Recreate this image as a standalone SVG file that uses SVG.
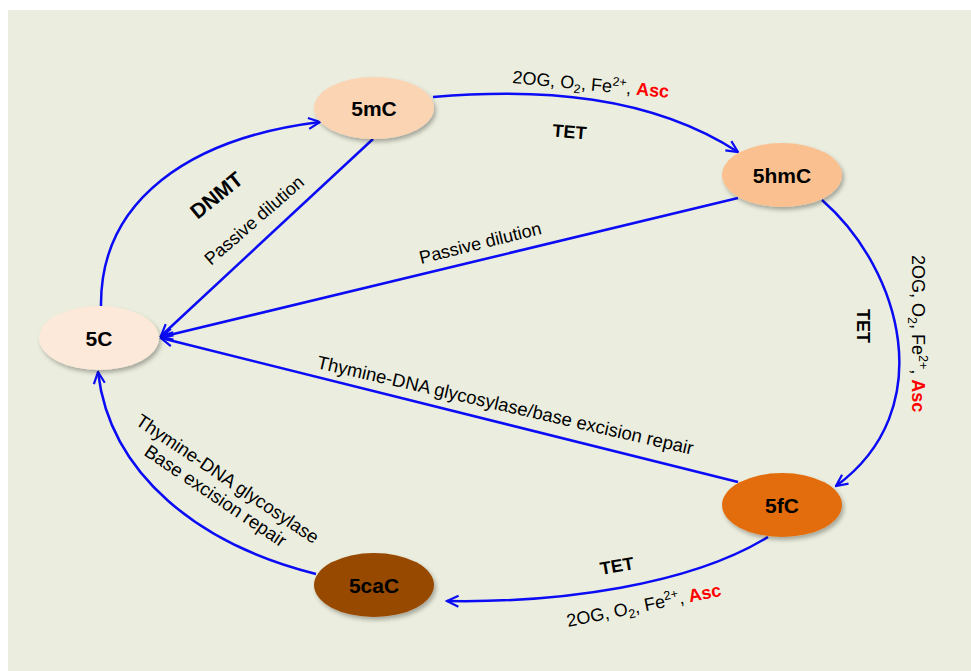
<svg xmlns="http://www.w3.org/2000/svg" width="971" height="671" viewBox="0 0 971 671">
<defs>
<style>
.bg{fill:#EBEEDE}
.edge{fill:none;stroke:#0B0BF5;stroke-width:2.5}
.node{filter:url(#sh)}
.nl{font-family:"Liberation Sans",Arial,sans-serif;font-weight:bold;font-size:21px;fill:#000;text-anchor:middle}
.lb{font-family:"Liberation Sans",Arial,sans-serif;font-size:18px;fill:#000}
.tet{font-family:"Liberation Sans",Arial,sans-serif;font-weight:bold;font-size:18px;fill:#000}
.sm{font-size:12.5px}
.asc{fill:#FF0000;font-weight:bold}
</style>
<filter id="sh" x="-20%" y="-20%" width="150%" height="160%">
<feDropShadow dx="2" dy="3" stdDeviation="2" flood-color="#000" flood-opacity="0.3"/>
</filter>
<marker id="arr" viewBox="0 0 14 14" refX="12.5" refY="7" markerWidth="14" markerHeight="14" markerUnits="userSpaceOnUse" orient="auto">
<path d="M1,1.5 L12.5,7 L1,12.5" fill="none" stroke="#0B0BF5" stroke-width="2.2"/>
</marker>
</defs>
<rect class="bg" x="8" y="10" width="963" height="661"/>
<g id="connectors">
<path class="edge" d="M433,97 C540,88 650,95 738,152" marker-end="url(#arr)"/>
<path class="edge" d="M822,200 C902,270 940,410 836,486" marker-end="url(#arr)"/>
<path class="edge" d="M768,537 C690,585 560,603 447,601" marker-end="url(#arr)"/>
<path class="edge" d="M316,574 C200,545 110,475 98,372" marker-end="url(#arr)"/>
<path class="edge" d="M101,306 C100,200 190,138 320,122" marker-end="url(#arr)"/>
<path class="edge" d="M373,139 L161,336" marker-end="url(#arr)"/>
<path class="edge" d="M738,198 L161,337" marker-end="url(#arr)"/>
<path class="edge" d="M738,482 L161,338" marker-end="url(#arr)"/>
</g>
<g id="labels">
<text class="lb" transform="translate(512,83) rotate(5.4)">2OG, O<tspan class="sm" dy="4">2</tspan><tspan dy="-4">, Fe</tspan><tspan class="sm" dy="-7">2+</tspan><tspan dy="7">, </tspan><tspan class="asc">Asc</tspan></text>
<text class="tet" text-anchor="middle" transform="translate(569,138) rotate(5)">TET</text>
<text class="lb" transform="translate(912,255) rotate(90)">2OG, O<tspan class="sm" dy="4">2</tspan><tspan dy="-4">, Fe</tspan><tspan class="sm" dy="-7">2+</tspan><tspan dy="7">, </tspan><tspan class="asc">Asc</tspan></text>
<text class="tet" transform="translate(857,309) rotate(90)">TET</text>
<text class="lb" transform="translate(568,627) rotate(-11.5)">2OG, O<tspan class="sm" dy="4">2</tspan><tspan dy="-4">, Fe</tspan><tspan class="sm" dy="-7">2+</tspan><tspan dy="7">, </tspan><tspan class="asc">Asc</tspan></text>
<text class="tet" text-anchor="middle" transform="translate(618,572) rotate(-10)">TET</text>
<text class="tet" style="font-size:21px" text-anchor="middle" transform="translate(221,201) rotate(-39)">DNMT</text>
<text class="lb" transform="translate(211,266) rotate(-41)">Passive dilution</text>
<text class="lb" transform="translate(421,264) rotate(-14)">Passive dilution</text>
<text class="lb" style="font-size:18.5px" transform="translate(316,368) rotate(13)">Thymine-DNA glycosylase/base excision repair</text>
<text class="lb" style="font-size:18.5px" text-anchor="middle" transform="translate(224,484) rotate(34)">Thymine-DNA glycosylase</text>
<text class="lb" style="font-size:18.5px" text-anchor="middle" transform="translate(212,501) rotate(34)">Base excision repair</text>
</g>
<g id="n5mC"><ellipse class="node" cx="374" cy="108" rx="60" ry="31" fill="#FBD4B4"/><text class="nl" x="374" y="115.5">5mC</text></g>
<g id="n5hmC"><ellipse class="node" cx="782" cy="175" rx="60" ry="32" fill="#FAC090"/><text class="nl" x="782" y="182.5">5hmC</text></g>
<g id="n5C"><ellipse class="node" cx="99" cy="338" rx="60" ry="32" fill="#FDE9D9"/><text class="nl" x="99" y="345.5">5C</text></g>
<g id="n5fC"><ellipse class="node" cx="782" cy="505" rx="60" ry="32" fill="#E36C09"/><text class="nl" x="782" y="512.5">5fC</text></g>
<g id="n5caC"><ellipse class="node" cx="374" cy="585" rx="60" ry="32" fill="#974806"/><text class="nl" x="374" y="592.5">5caC</text></g>
</svg>
